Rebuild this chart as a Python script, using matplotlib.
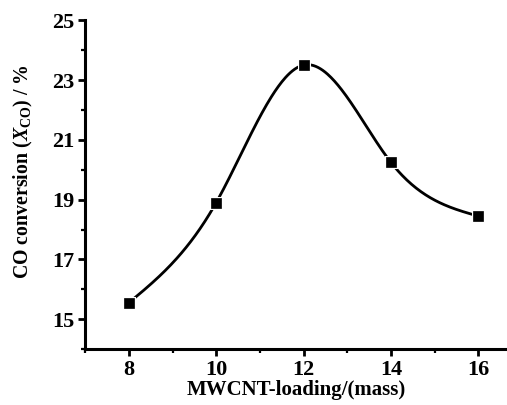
import numpy as np
import matplotlib
matplotlib.use("Agg")
import matplotlib.pyplot as plt
from matplotlib.ticker import MultipleLocator

loading = [8, 10, 12, 14, 16]
conversion = [15.55, 18.9, 23.5, 20.25, 18.45]

def natural_spline(x, y, n=300):
    x = np.asarray(x, float); y = np.asarray(y, float)
    k = len(x); h = np.diff(x)
    A = np.zeros((k, k)); b = np.zeros(k)
    A[0, 0] = A[-1, -1] = 1
    for i in range(1, k - 1):
        A[i, i - 1] = h[i - 1]; A[i, i] = 2 * (h[i - 1] + h[i]); A[i, i + 1] = h[i]
        b[i] = 3 * ((y[i + 1] - y[i]) / h[i] - (y[i] - y[i - 1]) / h[i - 1])
    c = np.linalg.solve(A, b)
    xs = np.linspace(x[0], x[-1], n); ys = np.empty_like(xs)
    for j, xv in enumerate(xs):
        i = min(np.searchsorted(x, xv, side='right') - 1, k - 2)
        dx = xv - x[i]
        bb = (y[i + 1] - y[i]) / h[i] - h[i] * (2 * c[i] + c[i + 1]) / 3
        d = (c[i + 1] - c[i]) / (3 * h[i])
        ys[j] = y[i] + bb * dx + c[i] * dx ** 2 + d * dx ** 3
    return xs, ys

plt.rcParams['font.family'] = ['Liberation Serif', 'DejaVu Serif']
plt.rcParams['font.weight'] = 'bold'
plt.rcParams['mathtext.fontset'] = 'custom'
plt.rcParams['mathtext.it'] = 'Liberation Serif:italic:bold'
plt.rcParams['mathtext.rm'] = 'Liberation Serif:bold'

fig = plt.figure(figsize=(5.07, 4.05), dpi=100)
ax = fig.add_axes([0.168, 0.138, 0.832, 0.812])

xs, ys = natural_spline(loading, conversion)
ax.plot(xs, ys, color='black', lw=2.0, zorder=2)
ax.plot(loading, conversion, 's', color='black', ms=6.5, mec='white', mew=2.2, zorder=3)
ax.plot(loading, conversion, 's', color='black', ms=6.5, mec='black', mew=0.5, zorder=4)

ax.set_xlim(7, 16.66)
ax.set_ylim(14, 25)
ax.xaxis.set_minor_locator(MultipleLocator(1))
ax.yaxis.set_minor_locator(MultipleLocator(1))
ax.set_yticks([15, 17, 19, 21, 23, 25])
ax.set_xticks([8, 10, 12, 14, 16])

for s in ['top', 'right']:
    ax.spines[s].set_visible(False)
for s in ['left', 'bottom']:
    ax.spines[s].set_linewidth(2.2)
ax.tick_params(which='major', direction='out', length=5, width=2, labelsize=16, pad=3)
ax.tick_params(which='minor', direction='out', length=3, width=1.6)

ax.set_xlabel('MWCNT-loading/(mass)', fontsize=15, fontweight='bold', labelpad=0)
ax.set_ylabel(r'CO conversion ($X_{\rm CO}$) / %', fontsize=14.3, fontweight='bold')
ax.yaxis.set_label_coords(-0.118, 0.54)

fig.savefig('out.png', dpi=100)
